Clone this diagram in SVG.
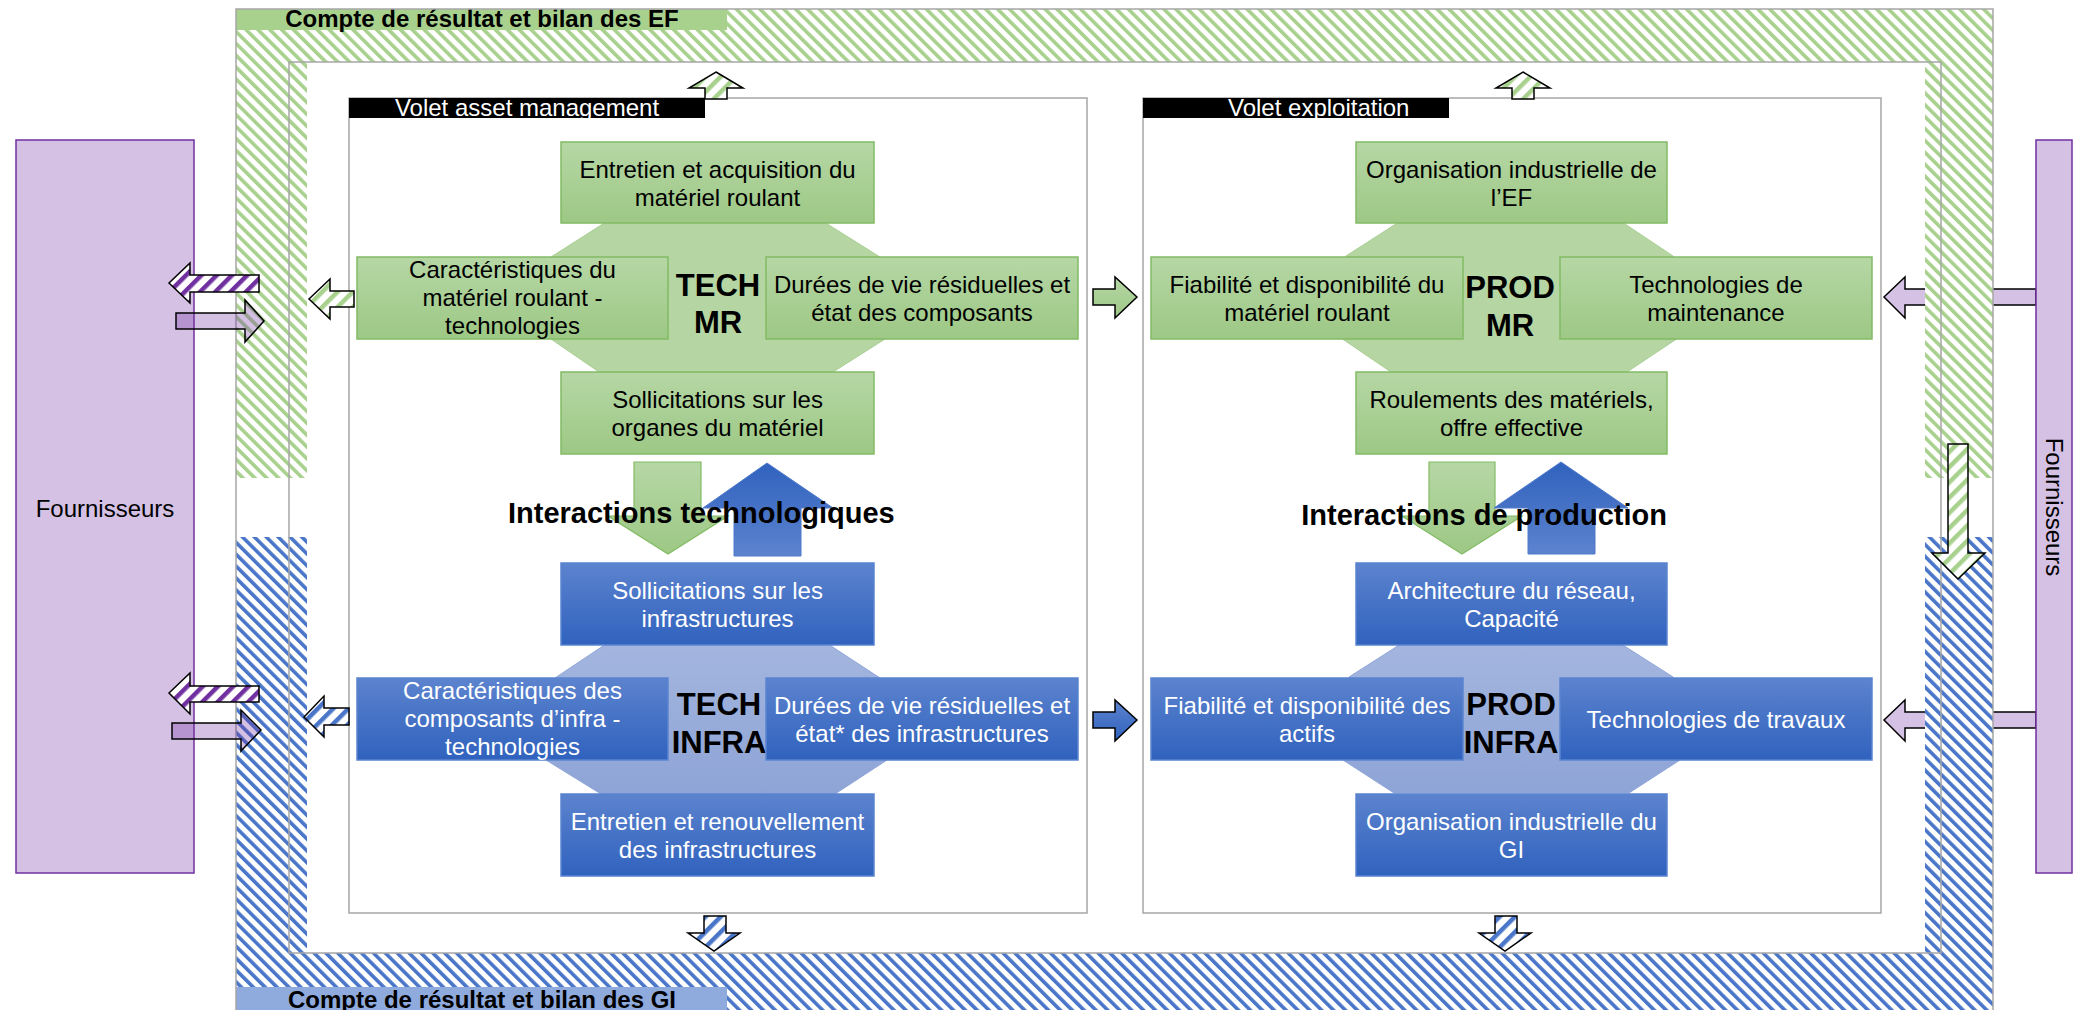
<svg xmlns="http://www.w3.org/2000/svg" width="2075" height="1010" viewBox="0 0 2075 1010">
<style>
text{font-family:"Liberation Sans",Arial,sans-serif}
.t{font-size:24px;text-anchor:middle}
.tk{fill:#000}
.tw{fill:#fff}
.big{font-size:31px;font-weight:bold;text-anchor:middle;fill:#000}
.inter{font-size:29px;font-weight:bold;fill:#000}
.title{font-size:24px;font-weight:bold;text-anchor:middle;fill:#000}
.gbox{fill:url(#gG);stroke:#82bb64;stroke-width:1.5}
.bbox{fill:url(#gB);stroke:#5a84cf;stroke-width:1.5}
.goct{fill:#b5d5a2;stroke:#a9cf94;stroke-width:1}
.boct{fill:url(#gBO);stroke:#8fa6d8;stroke-width:1}
.ar{stroke:#000;stroke-width:1.5;stroke-linejoin:miter}
.frame{stroke:#a6a6a6;stroke-width:1.5;fill:none}
</style>
<defs>
<linearGradient id="gG" x1="0" y1="0" x2="0" y2="1"><stop offset="0" stop-color="#b6d7a5"/><stop offset="1" stop-color="#9dc885"/></linearGradient>
<linearGradient id="gB" x1="0" y1="0" x2="0" y2="1"><stop offset="0" stop-color="#5c83ce"/><stop offset="1" stop-color="#3062be"/></linearGradient>
<linearGradient id="gBU" x1="0" y1="0" x2="0" y2="1"><stop offset="0" stop-color="#3062be"/><stop offset="1" stop-color="#5c83ce"/></linearGradient>
<linearGradient id="gBO" x1="0" y1="0" x2="0" y2="1"><stop offset="0" stop-color="#a4b6df"/><stop offset="1" stop-color="#8ea4d6"/></linearGradient>
<pattern id="hG" patternUnits="userSpaceOnUse" width="8.4" height="8.4" patternTransform="rotate(-45)"><rect width="8.4" height="8.4" fill="#fff"/><rect width="3.6" height="8.4" fill="#a9d18e"/></pattern>
<pattern id="hB" patternUnits="userSpaceOnUse" width="8.4" height="8.4" patternTransform="rotate(-45)"><rect width="8.4" height="8.4" fill="#fff"/><rect width="3.6" height="8.4" fill="#4a76c9"/></pattern>
<pattern id="aG" patternUnits="userSpaceOnUse" width="10.8" height="10.8" patternTransform="rotate(45)"><rect width="10.8" height="10.8" fill="#fff"/><rect width="4.5" height="10.8" fill="#a9d18e"/></pattern>
<pattern id="aB" patternUnits="userSpaceOnUse" width="10.8" height="10.8" patternTransform="rotate(45)"><rect width="10.8" height="10.8" fill="#fff"/><rect width="4.5" height="10.8" fill="#4a76c9"/></pattern>
<pattern id="aP" patternUnits="userSpaceOnUse" width="10.8" height="10.8" patternTransform="rotate(45)"><rect width="10.8" height="10.8" fill="#fff"/><rect width="4.5" height="10.8" fill="#7030a0"/></pattern>
</defs>
<rect width="2075" height="1010" fill="#fff"/>

<!-- right supplier arrows (under the hatched band) -->
<g id="connectors-under">
<path class="ar" fill="#d5c1e4" d="M1884,297 L1905,277 L1905,289 L2036,289 L2036,305 L1905,305 L1905,318 Z"/>
<path class="ar" fill="#d5c1e4" d="M1884,720 L1905,700 L1905,712 L2036,712 L2036,728 L1905,728 L1905,741 Z"/>
</g>

<!-- frame -->
<g id="frame-EF">
<path fill="url(#hG)" d="M236,9 L1993,9 L1993,478 L1925,478 L1925,62 L307,62 L307,478 L236,478 Z"/>
<rect x="236" y="9" width="491" height="21" fill="#a9d18e"/>
<text class="title" x="482" y="27">Compte de résultat et bilan des EF</text>
</g>
<g id="frame-GI">
<path fill="url(#hB)" d="M236,537 L307,537 L307,953 L1925,953 L1925,537 L1993,537 L1993,1014 L236,1014 Z"/>
<rect x="236" y="987" width="491" height="27" fill="#8faadc"/>
<text class="title" x="482" y="1008">Compte de résultat et bilan des GI</text>
</g>
<rect class="frame" x="236" y="9" width="1757" height="1005"/>
<rect class="frame" x="289" y="62" width="1652" height="891"/>

<!-- suppliers -->
<g id="fournisseurs-gauche">
<rect x="16" y="140" width="178" height="733" fill="#d5c1e4" stroke="#7030a0" stroke-width="1.5"/>
<text class="t tk" x="105" y="517">Fournisseurs</text>
</g>
<g id="fournisseurs-droite">
<rect x="2036" y="140" width="36" height="733" fill="#d5c1e4" stroke="#7030a0" stroke-width="1.5"/>
<text class="t tk" transform="translate(2046,507) rotate(90)" x="0" y="0">Fournisseurs</text>
</g>

<!-- Volet asset management -->
<g id="volet-asset">
<rect class="frame" x="349" y="98" width="738" height="815"/>
<rect x="349" y="98" width="356" height="20" fill="#000"/>
<text x="527" y="116" font-size="24" fill="#fff" text-anchor="middle">Volet asset management</text>
</g>
<g id="volet-exploitation">
<rect class="frame" x="1143" y="98" width="738" height="815"/>
<rect x="1143" y="98" width="306" height="20" fill="#000"/>
<text x="1228" y="116" font-size="24" fill="#fff">Volet exploitation</text>
</g>

<!-- TECH MR -->
<g id="tech-mr">
<polygon class="goct" points="609,220 821,220 880,257 885,339 833,372 599,372 551,339 551,257"/>
<text class="big" x="718" y="296">TECH</text>
<text class="big" x="718" y="333">MR</text>
</g>
<g id="n-entretien-acquisition">
<rect class="gbox" x="561" y="142" width="313" height="81"/>
<text class="t tk" x="717.5" y="177.5">Entretien et acquisition du</text>
<text class="t tk" x="717.5" y="205.5">matériel roulant</text>
</g>
<g id="n-caract-mr">
<rect class="gbox" x="357" y="257" width="311" height="82"/>
<text class="t tk" x="512.5" y="278">Caractéristiques du</text>
<text class="t tk" x="512.5" y="306">matériel roulant -</text>
<text class="t tk" x="512.5" y="334">technologies</text>
</g>
<g id="n-durees-mr">
<rect class="gbox" x="766" y="257" width="312" height="82"/>
<text class="t tk" x="922" y="293">Durées de vie résiduelles et</text>
<text class="t tk" x="922" y="321">état des composants</text>
</g>
<g id="n-sollicitations-organes">
<rect class="gbox" x="561" y="372" width="313" height="82"/>
<text class="t tk" x="717.5" y="408">Sollicitations sur les</text>
<text class="t tk" x="717.5" y="436">organes du matériel</text>
</g>

<!-- TECH INFRA -->
<g id="tech-infra">
<polygon class="boct" points="609,642 825,642 880,678 887,760 835,794 601,794 546,760 555,678"/>
<text class="big" x="719" y="715">TECH</text>
<text class="big" x="719" y="753">INFRA</text>
</g>
<g id="n-sollicitations-infra">
<rect class="bbox" x="561" y="563" width="313" height="82"/>
<text class="t tw" x="717.5" y="599">Sollicitations sur les</text>
<text class="t tw" x="717.5" y="627">infrastructures</text>
</g>
<g id="n-caract-infra">
<rect class="bbox" x="357" y="678" width="311" height="82"/>
<text class="t tw" x="512.5" y="699">Caractéristiques des</text>
<text class="t tw" x="512.5" y="727">composants d’infra -</text>
<text class="t tw" x="512.5" y="755">technologies</text>
</g>
<g id="n-durees-infra">
<rect class="bbox" x="766" y="678" width="312" height="82"/>
<text class="t tw" x="922" y="714">Durées de vie résiduelles et</text>
<text class="t tw" x="922" y="742">état* des infrastructures</text>
</g>
<g id="n-entretien-renouvellement">
<rect class="bbox" x="561" y="794" width="313" height="82"/>
<text class="t tw" x="717.5" y="830">Entretien et renouvellement</text>
<text class="t tw" x="717.5" y="858">des infrastructures</text>
</g>

<!-- PROD MR -->
<g id="prod-mr">
<polygon class="goct" points="1402,220 1619,220 1673,256 1678,338 1627,372 1391,372 1341,338 1346,256"/>
<text class="big" x="1510" y="298">PROD</text>
<text class="big" x="1510" y="336">MR</text>
</g>
<g id="n-organisation-ef">
<rect class="gbox" x="1356" y="142" width="311" height="81"/>
<text class="t tk" x="1511.5" y="177.5">Organisation industrielle de</text>
<text class="t tk" x="1511.5" y="205.5">l’EF</text>
</g>
<g id="n-fiabilite-mr">
<rect class="gbox" x="1151" y="257" width="312" height="82"/>
<text class="t tk" x="1307" y="293">Fiabilité et disponibilité du</text>
<text class="t tk" x="1307" y="321">matériel roulant</text>
</g>
<g id="n-technologies-maintenance">
<rect class="gbox" x="1560" y="257" width="312" height="82"/>
<text class="t tk" x="1716" y="293">Technologies de</text>
<text class="t tk" x="1716" y="321">maintenance</text>
</g>
<g id="n-roulements">
<rect class="gbox" x="1356" y="372" width="311" height="82"/>
<text class="t tk" x="1511.5" y="408">Roulements des matériels,</text>
<text class="t tk" x="1511.5" y="436">offre effective</text>
</g>

<!-- PROD INFRA -->
<g id="prod-infra">
<polygon class="boct" points="1404,642 1618,642 1673,677 1680,760 1629,793 1394,793 1343,760 1349,677"/>
<text class="big" x="1511" y="715">PROD</text>
<text class="big" x="1511" y="753">INFRA</text>
</g>
<g id="n-architecture">
<rect class="bbox" x="1356" y="563" width="311" height="82"/>
<text class="t tw" x="1511.5" y="599">Architecture du réseau,</text>
<text class="t tw" x="1511.5" y="627">Capacité</text>
</g>
<g id="n-fiabilite-actifs">
<rect class="bbox" x="1151" y="678" width="312" height="82"/>
<text class="t tw" x="1307" y="714">Fiabilité et disponibilité des</text>
<text class="t tw" x="1307" y="742">actifs</text>
</g>
<g id="n-technologies-travaux">
<rect class="bbox" x="1560" y="678" width="312" height="82"/>
<text class="t tw" x="1716" y="728">Technologies de travaux</text>
</g>
<g id="n-organisation-gi">
<rect class="bbox" x="1356" y="794" width="311" height="82"/>
<text class="t tw" x="1511.5" y="830">Organisation industrielle du</text>
<text class="t tw" x="1511.5" y="858">GI</text>
</g>

<!-- connectors -->
<g id="connectors">
<path fill="url(#gG)" stroke="#82bb64" stroke-width="1.2" d="M634,462 L701,462 L701,516 L728,516 L668,554 L608,516 L634,516 Z"/>
<path fill="url(#gBU)" stroke="#4f7bcb" stroke-width="1" d="M767,463 L833,508 L801,508 L801,556 L734,556 L734,508 L703,508 Z"/>
<path fill="url(#gG)" stroke="#82bb64" stroke-width="1.2" d="M1429,462 L1495,462 L1495,516 L1522,516 L1462,554 L1402,516 L1429,516 Z"/>
<path fill="url(#gBU)" stroke="#4f7bcb" stroke-width="1" d="M1561,462 L1628,508 L1595,508 L1595,554 L1528,554 L1528,508 L1494,508 Z"/>
<path class="ar" fill="url(#aG)" d="M716,72 L743,88 L727,88 L727,99 L705,99 L705,88 L689,88 Z"/>
<path class="ar" fill="url(#aG)" d="M1523,72 L1550,88 L1534,88 L1534,99 L1512,99 L1512,88 L1496,88 Z"/>
<path class="ar" fill="url(#aB)" d="M704,916 L726,916 L726,933 L740,933 L714,951 L688,933 L704,933 Z"/>
<path class="ar" fill="url(#aB)" d="M1495,916 L1517,916 L1517,933 L1531,933 L1505,951 L1479,933 L1495,933 Z"/>
<path class="ar" fill="url(#gG)" d="M1137,297 L1115,277 L1115,289 L1093,289 L1093,305 L1115,305 L1115,318 Z"/>
<path class="ar" fill="url(#gB)" d="M1137,720 L1115,700 L1115,712 L1093,712 L1093,728 L1115,728 L1115,741 Z"/>
<path class="ar" fill="url(#aG)" d="M309,299 L330,279 L330,291 L354,291 L354,307 L330,307 L330,319 Z"/>
<path class="ar" fill="url(#aB)" d="M304,717 L324,696 L324,708 L349,708 L349,725 L324,725 L324,737 Z"/>
<path class="ar" fill="url(#aP)" d="M169,283 L190,263 L190,275 L259,275 L259,292 L190,292 L190,303 Z"/>
<path class="ar" fill="#7030a0" fill-opacity="0.3" d="M264,321 L245,300 L245,313 L176,313 L176,329 L245,329 L245,342 Z"/>
<path class="ar" fill="url(#aP)" d="M169,693 L190,673 L190,686 L259,686 L259,702 L190,702 L190,714 Z"/>
<path class="ar" fill="#7030a0" fill-opacity="0.3" d="M261,730 L241,710 L241,723 L172,723 L172,739 L241,739 L241,751 Z"/>
<path class="ar" fill="url(#aG)" d="M1948,444 L1968,444 L1968,553 L1985,553 L1958,579 L1932,553 L1948,553 Z"/>
</g>

<text class="inter" x="508" y="523">Interactions technologiques</text>
<text class="inter" x="1667" y="525" text-anchor="end">Interactions de production</text>
</svg>
